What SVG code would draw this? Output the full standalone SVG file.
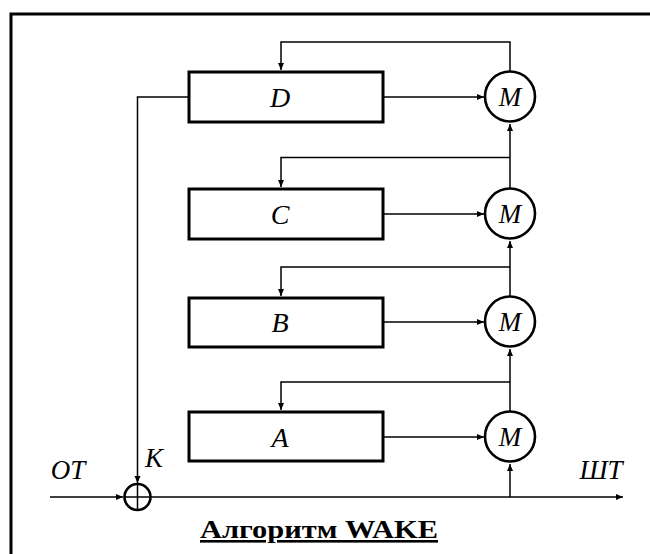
<svg xmlns="http://www.w3.org/2000/svg" width="650" height="554" viewBox="0 0 650 554">
<style>
.box{fill:#fff;stroke:#000;stroke-width:3}
.m{fill:#fff;stroke:#000;stroke-width:2.6}
.ln{fill:none;stroke:#000;stroke-width:1.5}
.lbl{font-family:"Liberation Serif",serif;font-style:italic;font-size:28px;text-anchor:middle;fill:#000}
.ml{font-family:"Liberation Serif",serif;font-style:italic;font-size:27px;text-anchor:middle;fill:#000}
</style>
<defs>
<marker id="ah" markerWidth="8" markerHeight="8" refX="7" refY="4" orient="auto" markerUnits="userSpaceOnUse">
<path d="M0,1 L7,4 L0,7 Z" fill="#000"/>
</marker>
</defs>
<rect width="650" height="554" fill="#fff"/>
<g id="frame">
<path d="M11,554 V14 H650" fill="none" stroke="#000" stroke-width="3"/>
</g>
<g id="connectors">
<path class="ln" d="M510,71 V42 H281 V70" marker-end="url(#ah)"/>
<path class="ln" d="M510,157.5 H281 V187" marker-end="url(#ah)"/>
<path class="ln" d="M510,267 H281 V296" marker-end="url(#ah)"/>
<path class="ln" d="M510,382 H281 V410" marker-end="url(#ah)"/>
<path class="ln" d="M510,188 V124" marker-end="url(#ah)"/>
<path class="ln" d="M510,296 V241" marker-end="url(#ah)"/>
<path class="ln" d="M510,411 V349" marker-end="url(#ah)"/>
<path class="ln" d="M510,497 V464" marker-end="url(#ah)"/>
<path class="ln" d="M383,97 H484" marker-end="url(#ah)"/>
<path class="ln" d="M383,214 H484" marker-end="url(#ah)"/>
<path class="ln" d="M383,322 H484" marker-end="url(#ah)"/>
<path class="ln" d="M383,437 H484" marker-end="url(#ah)"/>
<path class="ln" d="M189,97 H137.5 V483" marker-end="url(#ah)"/>
<path class="ln" d="M50,497 H123" marker-end="url(#ah)"/>
<path class="ln" d="M151,497 H623" marker-end="url(#ah)"/>
</g>
<g id="D"><rect class="box" x="189" y="72" width="194" height="50"/><text class="lbl" x="280" y="107">D</text></g>
<g id="C"><rect class="box" x="189" y="189" width="194" height="50"/><text class="lbl" x="280" y="224">C</text></g>
<g id="B"><rect class="box" x="189" y="298" width="194" height="49"/><text class="lbl" x="280" y="332">B</text></g>
<g id="A"><rect class="box" x="189" y="412" width="194" height="49"/><text class="lbl" x="280" y="447">A</text></g>
<g id="MD"><circle class="m" cx="510" cy="96.5" r="25"/><text class="ml" x="510" y="106">M</text></g>
<g id="MC"><circle class="m" cx="510" cy="213.5" r="25"/><text class="ml" x="510" y="223">M</text></g>
<g id="MB"><circle class="m" cx="510" cy="321.5" r="25"/><text class="ml" x="510" y="331">M</text></g>
<g id="MA"><circle class="m" cx="510" cy="436.5" r="25"/><text class="ml" x="510" y="446">M</text></g>
<g id="xor">
<circle cx="137.5" cy="497" r="13" fill="none" stroke="#000" stroke-width="2.6"/>
<path d="M137.5,484 V510 M124.5,497 H150.5" stroke="#000" stroke-width="1.5"/>
</g>
<g id="labels">
<text class="ml" x="68" y="479">ОТ</text>
<text class="ml" x="154" y="467">K</text>
<text class="ml" x="601" y="479">ШТ</text>
<text x="200" y="538" font-family="Liberation Serif,serif" font-weight="bold" font-size="26" textLength="238" lengthAdjust="spacingAndGlyphs" text-decoration="underline">Алгоритм WAKE</text>
</g>
</svg>
